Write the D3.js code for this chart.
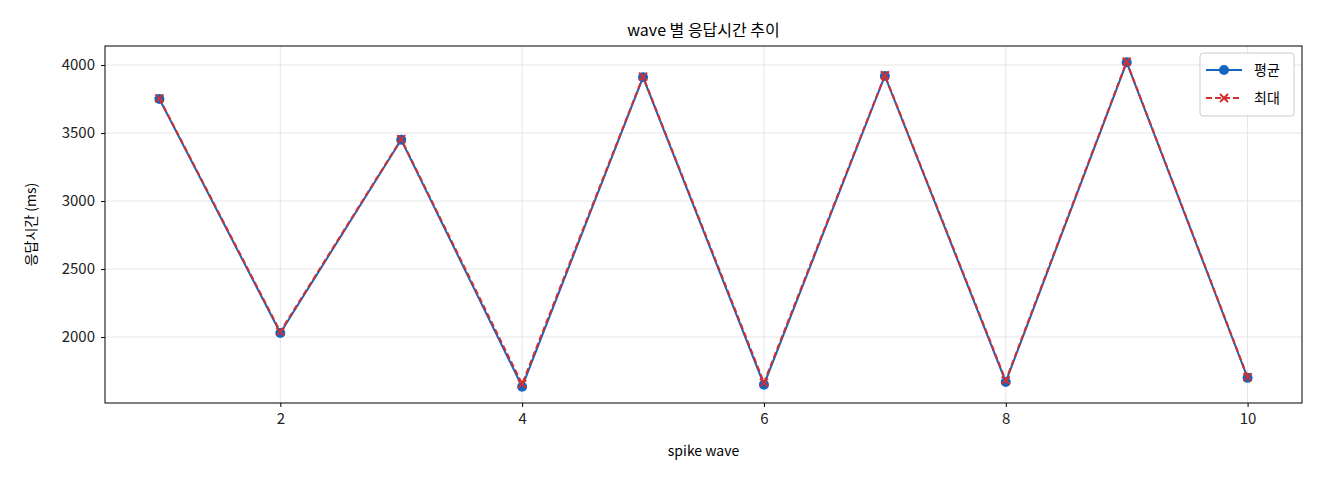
<!DOCTYPE html><html><head><meta charset="utf-8"><script src="https://cdn.jsdelivr.net/npm/d3@7"></script>
<style>body{margin:0;background:#fff}text{font-family:"Noto Sans CJK KR","DejaVu Sans",sans-serif;}</style></head><body><svg id="c" width="1320" height="480"></svg><script>
const waves=[1,2,3,4,5,6,7,8,9,10];
const meanVals=[3750,2030,3450,1635,3910,1650,3920,1670,4020,1700];
const maxVals=[3755,2040,3455,1655,3915,1665,3925,1680,4025,1705];
const yTicks=[2000,2500,3000,3500,4000];
const xTicks=[2,4,6,8,10];
const svg=d3.select("#c");
const L=105,R=1302,T=46,B=403;
const x=d3.scaleLinear().domain([0.55,10.45]).range([L,R]);
const y=d3.scaleLinear().domain([1515,4140]).range([B,T]);
const g=svg.append("g");
g.selectAll(".gx").data(xTicks).enter().append("line").attr("x1",d=>x(d)).attr("x2",d=>x(d)).attr("y1",T).attr("y2",B).attr("stroke","#e6e6e6");
g.selectAll(".gy").data(yTicks).enter().append("line").attr("y1",d=>y(d)).attr("y2",d=>y(d)).attr("x1",L).attr("x2",R).attr("stroke","#e6e6e6");
const xa=svg.append("g").attr("transform",`translate(0,${B})`).call(d3.axisBottom(x).tickValues(xTicks).tickFormat(d3.format("d")).tickSize(4).tickPadding(6));
const ya=svg.append("g").attr("transform",`translate(${L},0)`).call(d3.axisLeft(y).tickValues(yTicks).tickFormat(d3.format("d")).tickSize(4).tickPadding(6));
[xa,ya].forEach(a=>{a.select(".domain").remove();a.selectAll("text").attr("font-size",15).attr("fill","#222").style("font-family","'Noto Sans CJK KR',sans-serif");});
svg.append("rect").attr("x",L).attr("y",T).attr("width",R-L).attr("height",B-T).attr("fill","none").attr("stroke","#000");
const line=d3.line().x((d,i)=>x(waves[i])).y(d=>y(d));
svg.append("path").attr("d",line(meanVals)).attr("fill","none").attr("stroke","#1565c0").attr("stroke-width",2);
svg.selectAll(".m").data(meanVals).enter().append("circle").attr("cx",(d,i)=>x(waves[i])).attr("cy",d=>y(d)).attr("r",5).attr("fill","#1565c0");
svg.append("path").attr("d",line(maxVals)).attr("fill","none").attr("stroke","#d32f2f").attr("stroke-width",2).attr("stroke-dasharray","6,3");
const cross=(s,cx,cy)=>{s.append("path").attr("d",`M${cx-4},${cy-4}L${cx+4},${cy+4}M${cx-4},${cy+4}L${cx+4},${cy-4}`).attr("stroke","#d32f2f").attr("stroke-width",2);};
maxVals.forEach((d,i)=>cross(svg,x(waves[i]),y(d)));
svg.append("text").attr("x",(L+R)/2).attr("y",36).attr("text-anchor","middle").attr("font-size",16).text("wave 별 응답시간 추이");
svg.append("text").attr("x",(L+R)/2).attr("y",456).attr("text-anchor","middle").attr("font-size",14).text("spike wave");
svg.append("text").attr("transform",`translate(36,${(T+B)/2}) rotate(-90)`).attr("text-anchor","middle").attr("font-size",14).text("응답시간 (ms)");
const lg=svg.append("g");
lg.append("rect").attr("x",1200).attr("y",53).attr("width",94).attr("height",63).attr("rx",3).attr("fill","#fff").attr("stroke","#ccc");
lg.append("line").attr("x1",1206).attr("x2",1242).attr("y1",70).attr("y2",70).attr("stroke","#1565c0").attr("stroke-width",2);
lg.append("circle").attr("cx",1224).attr("cy",70).attr("r",5).attr("fill","#1565c0");
lg.append("line").attr("x1",1206).attr("x2",1242).attr("y1",98).attr("y2",98).attr("stroke","#d32f2f").attr("stroke-width",2).attr("stroke-dasharray","6,3");
cross(lg,1224,98);
lg.append("text").attr("x",1254).attr("y",75).attr("font-size",14).text("평균");
lg.append("text").attr("x",1254).attr("y",103).attr("font-size",14).text("최대");
</script></body></html>
